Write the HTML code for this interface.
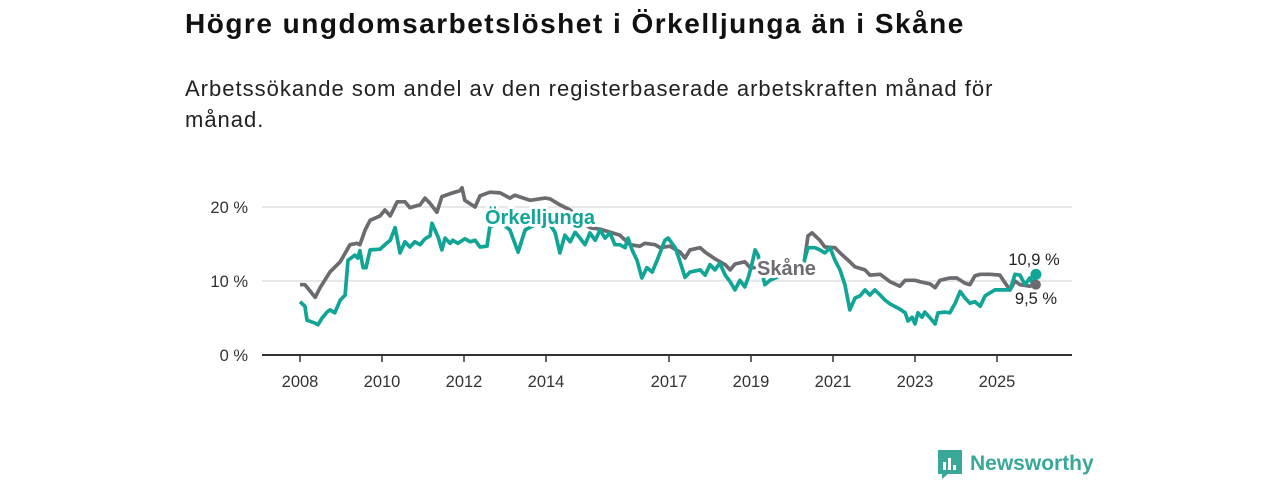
<!DOCTYPE html>
<html><head><meta charset="utf-8">
<style>
body{margin:0;background:#fff;font-family:"Liberation Sans",sans-serif;}
#wrap{position:relative;width:1280px;height:480px;overflow:hidden;}
h1{position:absolute;left:185px;top:8px;margin:0;font-size:28px;font-weight:bold;color:#111;letter-spacing:1.5px;white-space:nowrap}
p.sub{position:absolute;left:185px;top:73px;margin:0;font-size:22px;line-height:31px;color:#222;width:900px;letter-spacing:1px}
svg{position:absolute;left:0;top:0}
</style></head><body>
<div id="wrap">
<h1>Högre ungdomsarbetslöshet i Örkelljunga än i Skåne</h1>
<p class="sub">Arbetssökande som andel av den registerbaserade arbetskraften månad för<br>månad.</p>
<svg id="chart" width="1280" height="480"></svg>
</div>
<script>
const yTicks=[0,10,20];
const yTickLabels=["0 %","10 %","20 %"];
const xTicks=[2008,2010,2012,2014,2017,2019,2021,2023,2025];
const skaneDates=[2008.00,2008.12,2008.37,2008.49,2008.73,2008.98,2009.22,2009.39,2009.46,2009.59,2009.71,2009.95,2010.07,2010.20,2010.37,2010.56,2010.68,2010.93,2011.05,2011.17,2011.34,2011.46,2011.66,2011.90,2011.95,2012.02,2012.27,2012.39,2012.63,2012.88,2013.12,2013.24,2013.61,2013.98,2014.10,2014.34,2014.59,2014.83,2015.07,2015.32,2015.56,2015.80,2016.05,2016.29,2016.41,2016.66,2016.78,2017.02,2017.27,2017.39,2017.51,2017.76,2017.88,2018.12,2018.37,2018.49,2018.61,2018.85,2018.98,2019.22,2019.59,2019.95,2020.27,2020.39,2020.49,2020.68,2020.80,2021.05,2021.17,2021.41,2021.54,2021.78,2021.90,2022.15,2022.39,2022.63,2022.76,2023.00,2023.12,2023.37,2023.49,2023.61,2023.85,2024.02,2024.22,2024.34,2024.46,2024.59,2024.83,2025.07,2025.20,2025.32,2025.44,2025.56,2025.80,2025.95];
const skaneValues=[9.5,9.5,7.8,9.1,11.2,12.6,14.9,15.1,14.9,16.9,18.2,18.8,19.6,18.8,20.7,20.7,19.9,20.3,21.2,20.5,19.3,21.4,21.8,22.2,22.6,20.9,20.0,21.5,22.0,21.9,21.2,21.6,20.9,21.2,21.1,20.3,19.6,18.2,17.2,17.0,16.6,16.2,14.9,14.7,15.1,14.9,14.5,14.7,13.9,13.1,14.2,14.5,13.9,13.0,12.2,11.5,12.3,12.6,11.8,11.8,11.5,11.5,11.5,16.1,16.5,15.5,14.6,14.5,13.8,12.6,11.9,11.5,10.8,10.9,9.9,9.3,10.1,10.1,9.9,9.6,9.1,10.1,10.4,10.4,9.7,9.5,10.7,10.9,10.9,10.8,9.7,8.8,10.0,9.5,9.3,9.5];
const orkDates=[2008.00,2008.12,2008.17,2008.37,2008.44,2008.54,2008.66,2008.73,2008.85,2008.98,2009.10,2009.17,2009.34,2009.41,2009.46,2009.54,2009.61,2009.71,2009.95,2010.07,2010.20,2010.32,2010.44,2010.56,2010.68,2010.80,2010.93,2011.05,2011.17,2011.22,2011.37,2011.46,2011.54,2011.66,2011.73,2011.85,2012.02,2012.15,2012.27,2012.39,2012.56,2012.63,2012.88,2013.12,2013.32,2013.49,2013.73,2014.05,2014.22,2014.34,2014.46,2014.59,2014.71,2014.83,2014.95,2015.07,2015.20,2015.32,2015.44,2015.56,2015.68,2015.80,2015.93,2016.00,2016.10,2016.22,2016.34,2016.46,2016.59,2016.71,2016.90,2016.98,2017.15,2017.27,2017.39,2017.51,2017.76,2017.88,2018.00,2018.12,2018.24,2018.37,2018.49,2018.61,2018.73,2018.85,2018.93,2019.02,2019.10,2019.17,2019.34,2019.46,2019.71,2019.95,2020.20,2020.39,2020.56,2020.68,2020.80,2020.93,2021.05,2021.17,2021.29,2021.41,2021.54,2021.66,2021.78,2021.90,2022.02,2022.15,2022.27,2022.39,2022.63,2022.76,2022.83,2022.93,2023.00,2023.07,2023.17,2023.24,2023.37,2023.49,2023.56,2023.73,2023.85,2023.98,2024.10,2024.22,2024.34,2024.46,2024.59,2024.71,2024.83,2024.95,2025.20,2025.32,2025.44,2025.56,2025.68,2025.80,2025.88,2025.95];
const orkValues=[7.2,6.6,4.7,4.3,4.1,5.0,5.8,6.1,5.7,7.4,8.1,12.8,13.5,13.1,14.1,11.8,11.8,14.2,14.3,14.9,15.5,17.2,13.8,15.3,14.6,15.3,14.9,15.7,16.1,17.8,15.9,14.2,15.8,15.1,15.5,15.1,15.7,15.3,15.5,14.6,14.7,17.3,18.0,16.9,13.9,16.9,17.6,18.0,16.6,13.8,16.2,15.3,16.6,15.8,14.9,16.5,15.5,16.9,15.8,16.5,14.9,14.9,14.5,15.8,14.2,12.8,10.4,11.8,11.2,12.8,15.5,15.8,14.5,12.6,10.5,11.2,11.5,10.8,12.2,11.5,12.4,10.8,9.9,8.8,10.1,9.2,10.4,12.2,14.2,13.5,9.5,10.1,10.7,10.7,10.8,14.5,14.5,14.2,13.8,14.5,12.8,11.5,9.5,6.1,7.7,8.0,8.8,8.1,8.8,8.1,7.4,6.9,6.2,5.7,4.6,5.1,4.2,5.7,5.1,5.8,5.0,4.2,5.7,5.8,5.7,7.0,8.6,7.7,7.0,7.2,6.6,8.0,8.4,8.8,8.8,8.8,10.9,10.8,9.5,10.4,9.5,10.9];
const NS="http://www.w3.org/2000/svg";
const svg=document.getElementById('chart');
const X=yr=>300+(yr-2008)*41;
const Y=v=>355-v*7.4;
function mk(tag,attrs,parent){const e=document.createElementNS(NS,tag);for(const k in attrs)e.setAttribute(k,attrs[k]);(parent||svg).appendChild(e);return e;}
yTicks.forEach((t,i)=>{
  if(t>0){const g=mk('line',{x1:262,x2:1072,y1:Y(t),y2:Y(t),stroke:'#d9d9d9','stroke-width':1.3});
  
  }
  const l=mk('text',{x:248,y:Y(t)+6,'text-anchor':'end','font-size':16.5,fill:'#333','font-family':'Liberation Sans, sans-serif'});
  l.textContent=yTickLabels[i];
  
  
});
const ax=mk('line',{x1:262,x2:1072,y1:355,y2:355,stroke:'#333','stroke-width':2});


xTicks.forEach(t=>{
  const tk=mk('line',{x1:X(t),x2:X(t),y1:355,y2:362,stroke:'#333','stroke-width':1.5});
  
  
  const l=mk('text',{x:X(t),y:387,'text-anchor':'middle','font-size':16.5,fill:'#333','font-family':'Liberation Sans, sans-serif'});
  l.textContent=t;
  
  
});
function path(d,v){return d.map((yr,i)=>(i?'L':'M')+X(yr).toFixed(1)+','+Y(v[i]).toFixed(1)).join('');}
const sk=mk('path',{d:path(skaneDates,skaneValues),fill:'none',stroke:'#6e6b70','stroke-width':3.7,'stroke-linejoin':'round'});


const ok=mk('path',{d:path(orkDates,orkValues),fill:'none',stroke:'#10a596','stroke-width':3.7,'stroke-linejoin':'round'});


const sd=mk('circle',{cx:X(skaneDates[skaneDates.length-1]),cy:Y(skaneValues[skaneValues.length-1]),r:5,fill:'#6e6b70'});


const od=mk('circle',{cx:X(orkDates[orkDates.length-1]),cy:Y(orkValues[orkValues.length-1]),r:5.5,fill:'#10a596'});


function lab(txt,x,y,fill,size,bold,halo,name,anchor){
  const t=mk('text',{x:x,y:y,'font-size':size,fill:fill,'font-weight':bold?'bold':'normal','font-family':'Liberation Sans, sans-serif','text-anchor':anchor||'start'});
  if(halo){t.setAttribute('stroke','#fff');t.setAttribute('stroke-width',6);t.setAttribute('paint-order','stroke');t.setAttribute('stroke-linejoin','round');}
  t.textContent=txt;
  
  
}
lab('Örkelljunga',485,224,'#10a596',20,true,true,'orkelljunga-label');
lab('Skåne',757,275,'#6e6b70',20,true,true,'skane-label');
lab('10,9 %',1034,265,'#222',16.5,false,true,'orkelljunga-end-value','middle');
lab('9,5 %',1036,304,'#222',16.5,false,true,'skane-end-value','middle');
const lg=mk('g',{});


mk('path',{d:'M938 450h24v24h-14l-6 5v-5h-4z',fill:'#3aa898'},lg);
[[943,462,3,8],[948,458,3,12],[953,465,3,5]].forEach(b=>mk('rect',{x:b[0],y:b[1],width:b[2],height:b[3],fill:'#fff'},lg));
const lt=mk('text',{x:970,y:470,'font-size':21,'font-weight':'bold',fill:'#3aa898','font-family':'Liberation Sans, sans-serif'},lg);
lt.textContent='Newsworthy';
</script>
</body></html>
